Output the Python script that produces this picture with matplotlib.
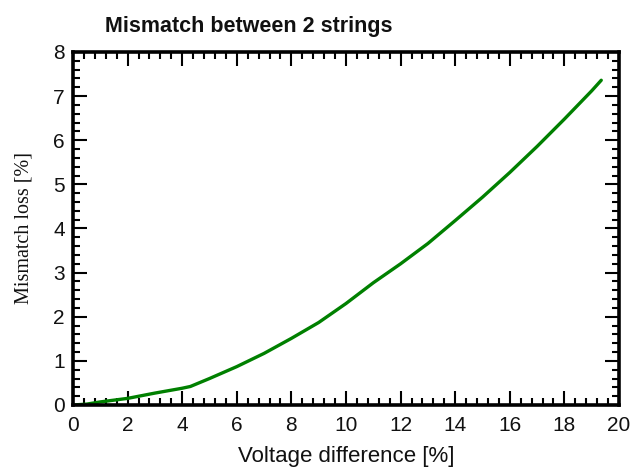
import matplotlib
matplotlib.use("Agg")
import matplotlib.pyplot as plt
from matplotlib.ticker import MultipleLocator
from matplotlib import font_manager

# Data
voltage_diff = [0, 0.5, 1, 1.5, 2, 3, 4, 4.3, 5, 6, 7, 8, 9, 10, 11, 12,
                13, 14, 15, 16, 17, 18, 19, 19.35]
mismatch_loss = [0, 0.02, 0.07, 0.11, 0.15, 0.27, 0.38, 0.42, 0.60, 0.87,
                 1.17, 1.51, 1.87, 2.30, 2.77, 3.20, 3.66, 4.18, 4.71, 5.27,
                 5.86, 6.48, 7.12, 7.36]

title_text = "Mismatch between 2 strings"
xlabel_text = "Voltage difference [%]"
ylabel_text = "Mismatch loss [%]"

names = {f.name for f in font_manager.fontManager.ttflist}
sans = "Liberation Sans" if "Liberation Sans" in names else "DejaVu Sans"
serif = "Liberation Serif" if "Liberation Serif" in names else "DejaVu Serif"

fig = plt.figure(figsize=(6.42, 4.70), dpi=100)
ax = fig.add_axes([73/642, 65/470, 546/642, 353/470])

ax.plot(voltage_diff, mismatch_loss, color="#008000", linewidth=2.4,
        solid_capstyle="round")

ax.set_xlim(0, 20)
ax.set_ylim(0, 8)
ax.xaxis.set_major_locator(MultipleLocator(2))
ax.xaxis.set_minor_locator(MultipleLocator(0.4))
ax.yaxis.set_major_locator(MultipleLocator(1))
ax.yaxis.set_minor_locator(MultipleLocator(0.2))

ax.tick_params(which="both", direction="in", top=True, right=True,
               color="black", width=1.5)
ax.tick_params(which="major", length=10)
ax.tick_params(which="minor", length=5)
ax.tick_params(axis="x", which="major", pad=8)
ax.tick_params(axis="y", which="major", pad=6)
for lab in ax.get_xticklabels() + ax.get_yticklabels():
    lab.set_fontfamily(sans)
    lab.set_fontsize(15)
    lab.set_color("#111111")

for sp in ax.spines.values():
    sp.set_linewidth(2.6)
    sp.set_color("black")

ax.set_xlabel(xlabel_text, fontfamily=sans, fontsize=16, color="#111111")
ax.xaxis.set_label_coords(0.5, -0.117)
ax.set_ylabel(ylabel_text, fontfamily=serif, fontsize=14.5, color="#111111")
ax.yaxis.set_label_coords(-0.073, 0.5)

fig.text(249/642, 1 - 32/470, title_text, fontfamily=sans,
         fontweight="bold", fontsize=15.5, ha="center", va="baseline",
         color="#111111")

fig.savefig("out.png", dpi=100)
